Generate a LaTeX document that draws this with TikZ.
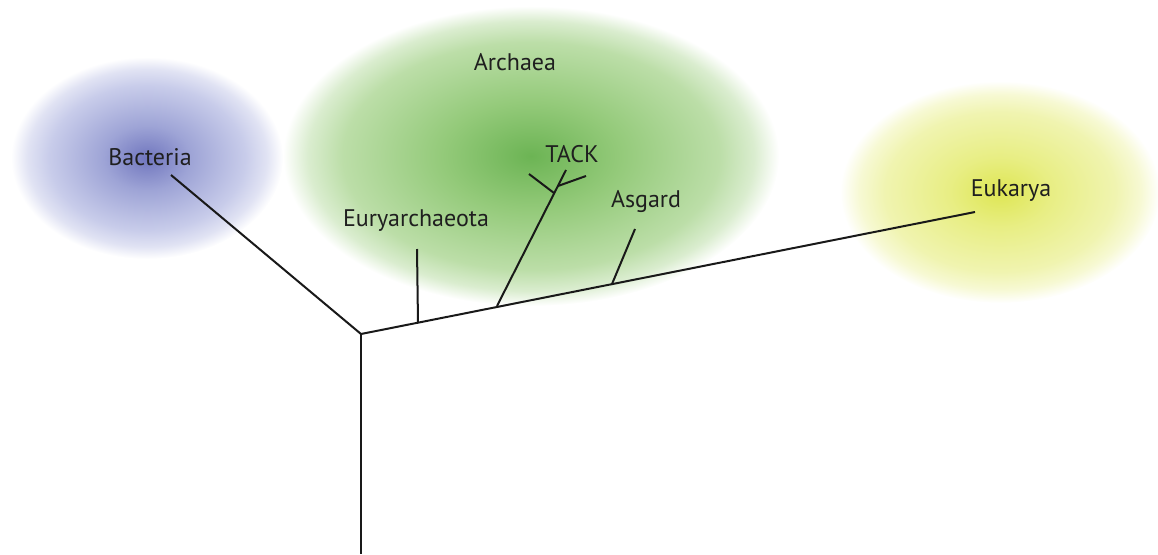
\documentclass[tikz,border=0pt]{standalone}
\usepackage{fontspec}
\setmainfont{PT Sans}
\definecolor{bactin}{RGB}{112,118,190}
\definecolor{bactmid}{RGB}{158,164,214}
\definecolor{bactout}{RGB}{200,204,234}
\definecolor{archin}{RGB}{108,180,84}
\definecolor{archmid}{RGB}{148,202,122}
\definecolor{archout}{RGB}{188,222,168}
\definecolor{eukin}{RGB}{222,230,84}
\definecolor{eukmid}{RGB}{232,238,132}
\definecolor{eukout}{RGB}{240,244,176}
\pgfdeclareradialshading{bactshade}{\pgfpoint{0bp}{0bp}}{color(0bp)=(bactin); color(8bp)=(bactmid); color(18bp)=(bactout); color(22bp)=(bactout!55!white); color(25bp)=(white); color(50bp)=(white)}
\pgfdeclareradialshading{archshade}{\pgfpoint{0bp}{0bp}}{color(0bp)=(archin); color(9bp)=(archmid); color(19bp)=(archout); color(22.5bp)=(archout!55!white); color(25bp)=(white); color(50bp)=(white)}
\pgfdeclareradialshading{eukshade}{\pgfpoint{0bp}{0bp}}{color(0bp)=(eukin); color(8bp)=(eukmid); color(18bp)=(eukout); color(22bp)=(eukout!55!white); color(25bp)=(white); color(50bp)=(white)}
\tikzset{
  taxon/.style={anchor=base, inner sep=0pt, font=\fontsize{24}{28}\selectfont, text=black!88},
  branch/.style={line width=2pt, black!90}
}
\begin{document}
\begin{tikzpicture}[x=1pt, y=-1pt]
\useasboundingbox (0,0) rectangle (1158,554);
% coloured clouds
\shade[shading=bactshade] (147,158) ellipse [x radius=136pt, y radius=101pt];
\shade[shading=archshade] (531,156) ellipse [x radius=248pt, y radius=150pt];
\shade[shading=eukshade] (1000,192) ellipse [x radius=160pt, y radius=111pt];
% tree points
\coordinate (root) at (361,334);
\coordinate (bact) at (171,175);
\coordinate (euk) at (975,212);
\coordinate (bottom) at (361,554);
\coordinate (euryb) at (418,323);
\coordinate (euryt) at (417,249);
\coordinate (tackb) at (497,306);
\coordinate (tackt) at (566,170);
\coordinate (tackl) at (554,193);
\coordinate (tackll) at (529,174);
\coordinate (tackr) at (558,186);
\coordinate (tackrr) at (586,176);
\coordinate (asgb) at (612,284);
\coordinate (asgt) at (635,229);
% labels
\node[taxon] (bacteria) at (150,165) {Bacteria};
\node[taxon] (archaea) at (515,70) {Archaea};
\node[taxon] (tack) at (572,162) {TACK};
\node[taxon] (eury) at (416,226) {Euryarchaeota};
\node[taxon] (asgard) at (646,207) {Asgard};
\node[taxon] (eukarya) at (1011,196) {Eukarya};
% branches
\draw[branch] (bact) -- (root) -- (euk);
\draw[branch] (root) -- (bottom);
\draw[branch] (euryb) -- (euryt);
\draw[branch] (tackb) -- (tackt);
\draw[branch] (tackl) -- (tackll);
\draw[branch] (tackr) -- (tackrr);
\draw[branch] (asgb) -- (asgt);
\end{tikzpicture}
\end{document}
